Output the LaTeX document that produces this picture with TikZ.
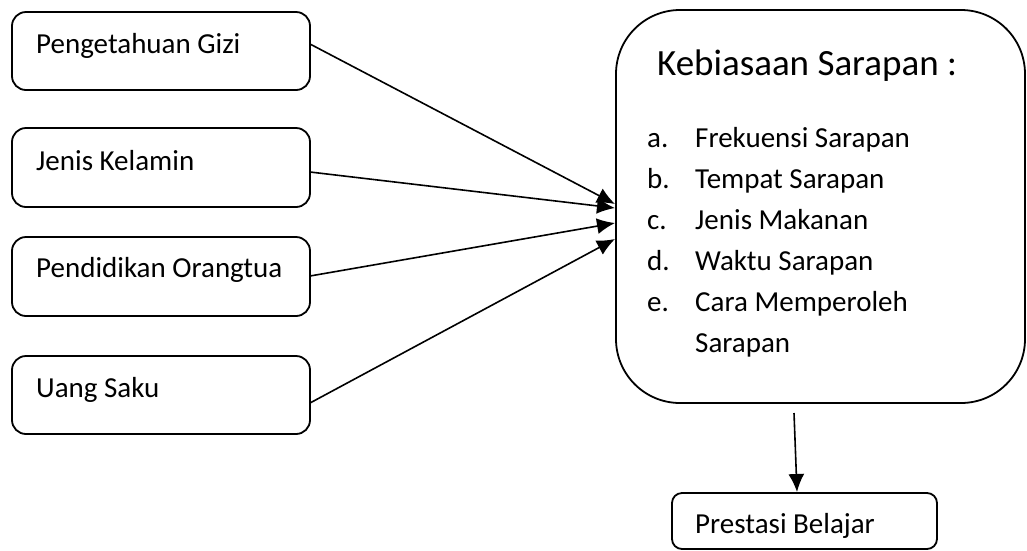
\documentclass[tikz,border=0pt]{standalone}
\usepackage{fontspec}
\setmainfont{Carlito}
\usetikzlibrary{arrows.meta}
\begin{document}
\begin{tikzpicture}[x=1pt,y=-1pt,
  smallbox/.style={draw,line width=1.8pt,rounded corners=14pt,inner sep=0pt},
  txt/.style={anchor=base west,inner sep=0pt,font=\fontsize{29}{35}\selectfont},
  conn/.style={line width=1.6pt,-{Latex[length=18pt,width=16pt]}}]
\useasboundingbox (0,0) rectangle (1027,550);
% left boxes
\node[smallbox,minimum width=298pt,minimum height=78pt] (b1) at (161,51) {};
\node[smallbox,minimum width=298pt,minimum height=79pt] (b2) at (161,167.5) {};
\node[smallbox,minimum width=298pt,minimum height=79pt] (b3) at (161,276.5) {};
\node[smallbox,minimum width=298pt,minimum height=78pt] (b4) at (161,395) {};
\node[txt] (t1) at (36,53) {Pengetahuan Gizi};
\node[txt] (t2) at (36,170) {Jenis Kelamin};
\node[txt] (t3) at (36,277) {Pendidikan Orangtua};
\node[txt] (t4) at (36,397) {Uang Saku};
% big box
\node[draw,line width=1.8pt,rounded corners=64pt,inner sep=0pt,minimum width=409pt,minimum height=393pt] (big) at (820.5,206.5) {};
\node[anchor=base west,inner sep=0pt,font=\fontsize{37}{44}\selectfont] (title) at (657,75) {Kebiasaan Sarapan :};
\node[txt] (la) at (647,147) {a.};
\node[txt] (ia) at (695,147) {Frekuensi Sarapan};
\node[txt] (lb) at (647,188) {b.};
\node[txt] (ib) at (695,188) {Tempat Sarapan};
\node[txt] (lc) at (647,229) {c.};
\node[txt] (ic) at (695,229) {Jenis Makanan};
\node[txt] (ld) at (647,270) {d.};
\node[txt] (id) at (695,270) {Waktu Sarapan};
\node[txt] (le) at (647,311) {e.};
\node[txt] (ie) at (695,311) {Cara Memperoleh};
\node[txt] (ie2) at (695,352) {Sarapan};
% bottom box
\node[smallbox,rounded corners=10pt,minimum width=265pt,minimum height=56pt] (pb) at (804.5,521) {};
\node[txt] (pt) at (695,533) {Prestasi Belajar};
% connector endpoints
\coordinate (s1) at (310,44);
\coordinate (s2) at (310,172);
\coordinate (s3) at (310,276);
\coordinate (s4) at (310,403);
\coordinate (e1) at (615,204);
\coordinate (e2) at (615,208);
\coordinate (e3) at (615,223);
\coordinate (e4) at (615,239);
\coordinate (d1) at (794,413);
\coordinate (d2) at (797,492);
\draw[conn] (s1) -- (e1);
\draw[conn] (s2) -- (e2);
\draw[conn] (s3) -- (e3);
\draw[conn] (s4) -- (e4);
\draw[conn] (d1) -- (d2);
\end{tikzpicture}
\end{document}
